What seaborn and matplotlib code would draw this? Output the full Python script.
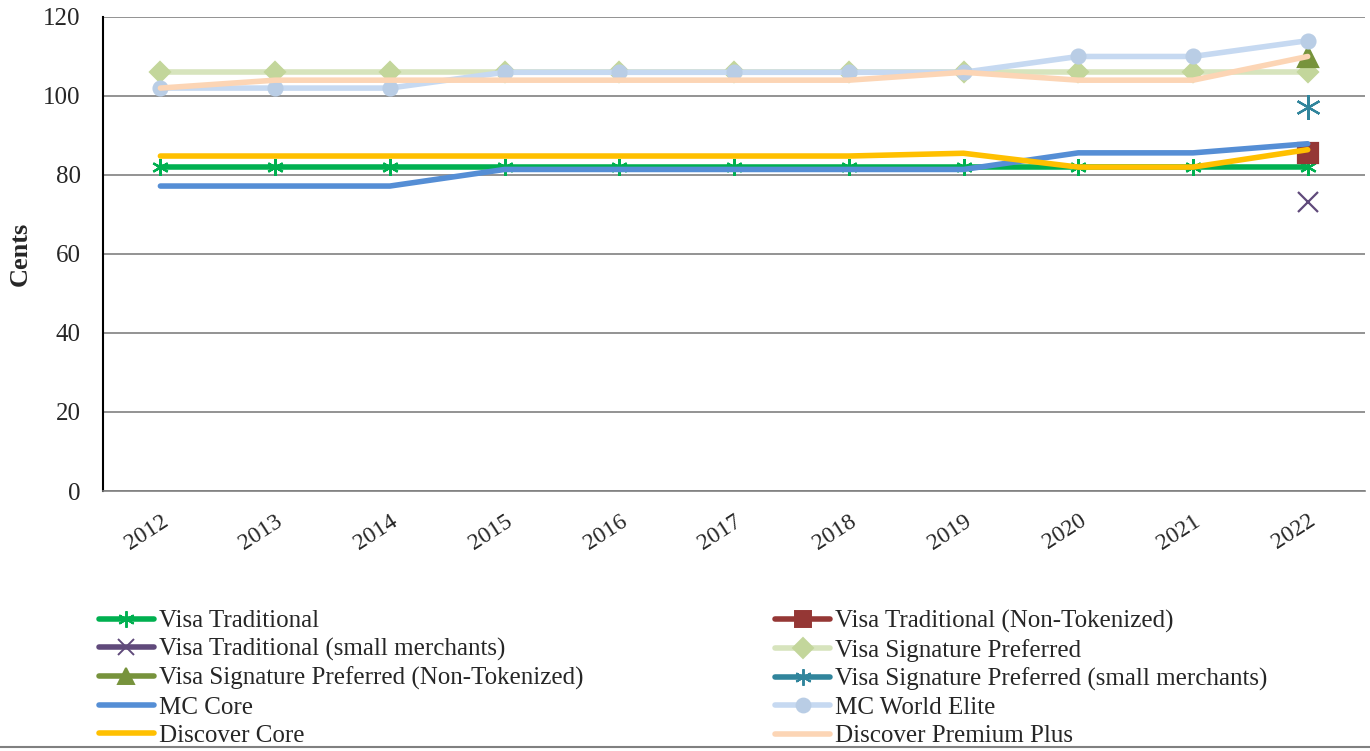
import numpy as np
import pandas as pd
import matplotlib
matplotlib.use("Agg")
import matplotlib.pyplot as plt
from matplotlib.lines import Line2D
import seaborn as sns

years = [2012, 2013, 2014, 2015, 2016, 2017, 2018, 2019, 2020, 2021, 2022]
nan = np.nan

visa_trad = [82, 82, 82, 82, 82, 82, 82, 82, 82, 82, 82]
visa_trad_nontok = [nan] * 10 + [85.6]
visa_trad_small = [nan] * 10 + [73.2]
visa_sig = [106, 106, 106, 106, 106, 106, 106, 106, 106, 106, 106]
visa_sig_nontok = [nan] * 10 + [109.8]
visa_sig_small = [nan] * 10 + [97.3]
mc_core = [77.2, 77.2, 77.2, 81.4, 81.4, 81.4, 81.4, 81.4, 85.6, 85.6, 87.9]
mc_world_elite = [102, 102, 102, 106, 106, 106, 106, 106, 110, 110, 114]
discover_core = [84.8, 84.8, 84.8, 84.8, 84.8, 84.8, 84.8, 85.5, 82, 82, 86.4]
discover_pp = [102, 104, 104, 104, 104, 104, 104, 106, 104, 104, 110]

series = [
    ("Visa Traditional", visa_trad),
    ("Visa Traditional (Non-Tokenized)", visa_trad_nontok),
    ("Visa Traditional (small merchants)", visa_trad_small),
    ("Visa Signature Preferred", visa_sig),
    ("Visa Signature Preferred (Non-Tokenized)", visa_sig_nontok),
    ("Visa Signature Preferred (small merchants)", visa_sig_small),
    ("MC Core", mc_core),
    ("MC World Elite", mc_world_elite),
    ("Discover Core", discover_core),
    ("Discover Premium Plus", discover_pp),
]

# line colour, marker, marker colour, marker size
styles = {
    "Visa Traditional": ("#00B050", (6, 2, 0), "#00B050", 12),
    "Visa Traditional (Non-Tokenized)": ("#953735", "s", "#953735", 14),
    "Visa Traditional (small merchants)": ("#604A7B", "x", "#604A7B", 14),
    "Visa Signature Preferred": ("#D7E4BD", "D", "#C3D69B", 10),
    "Visa Signature Preferred (Non-Tokenized)": ("#77933C", "^", "#77933C", 14),
    "Visa Signature Preferred (small merchants)": ("#31859C", (6, 2, 0), "#31859C", 18),
    "MC Core": ("#558ED5", None, None, 0),
    "MC World Elite": ("#C6D9F1", "o", "#B9CDE5", 10),
    "Discover Core": ("#FFC000", None, None, 0),
    "Discover Premium Plus": ("#FCD5B5", None, None, 0),
}

sns.set_style("white")
plt.rcParams["font.family"] = ["Liberation Serif", "DejaVu Serif"]

fig = plt.figure(figsize=(13.7, 7.51), dpi=100)
ax = fig.add_axes([0.0752, 0.3462, 0.9212, 0.6312])

handles = []
for name, vals in series:
    df = pd.DataFrame({"year": years, "value": vals}).dropna()
    color, marker, mcolor, ms = styles[name]
    kw = dict(color=color, linewidth=4)
    if marker is not None:
        kw.update(marker=marker, markersize=ms, markerfacecolor=mcolor,
                  markeredgecolor=mcolor, markeredgewidth=1.6)
    sns.lineplot(data=df, x="year", y="value", ax=ax, label=name, **kw)
    lms = min(ms, 12)
    h = Line2D([], [], color=color, linewidth=4, marker=marker,
               markersize=lms, markerfacecolor=mcolor, markeredgecolor=mcolor,
               markeredgewidth=1.4)
    handles.append((h, name))
ax.get_legend().remove()

ax.set_xlim(2011.5, 2022.5)
ax.set_ylim(0, 120)
ax.set_yticks(range(0, 121, 20))
ax.set_xticks(years)
ax.set_xticklabels([str(y) for y in years], rotation=33, fontsize=17,
                   ha="right", rotation_mode="anchor")
ax.set_xticks(np.arange(2011.5, 2023, 1), minor=True)
ax.tick_params(axis="x", which="major", length=0, pad=14)
ax.tick_params(axis="x", which="minor", length=7, color="#808080", width=1.2,
               direction="out")
ax.tick_params(axis="y", length=0, labelsize=18, pad=16)
ax.yaxis.grid(True, color="#808080", linewidth=1.2)
ax.set_axisbelow(True)
for s in ["top", "right"]:
    ax.spines[s].set_visible(False)
ax.spines["left"].set_color("black")
ax.spines["left"].set_linewidth(1.5)
ax.spines["bottom"].set_color("#808080")
ax.spines["bottom"].set_linewidth(1.2)
ax.set_xlabel("")
ax.set_ylabel("Cents", fontsize=19, fontweight="bold", labelpad=8)

left = handles[0::2]
right = handles[1::2]
for group, x0 in [(left, 0.072), (right, 0.566)]:
    fig.legend([h for h, _ in group], [n for _, n in group],
               loc="upper left", bbox_to_anchor=(x0, 0.188), frameon=False,
               fontsize=18, handlelength=2.2, handletextpad=0.2,
               labelspacing=0.23, borderpad=0, borderaxespad=0)

fig.add_artist(Line2D([0, 1], [0.005, 0.005], color="#808080", linewidth=1.5,
                      transform=fig.transFigure))

fig.savefig("out.png", dpi=100)
